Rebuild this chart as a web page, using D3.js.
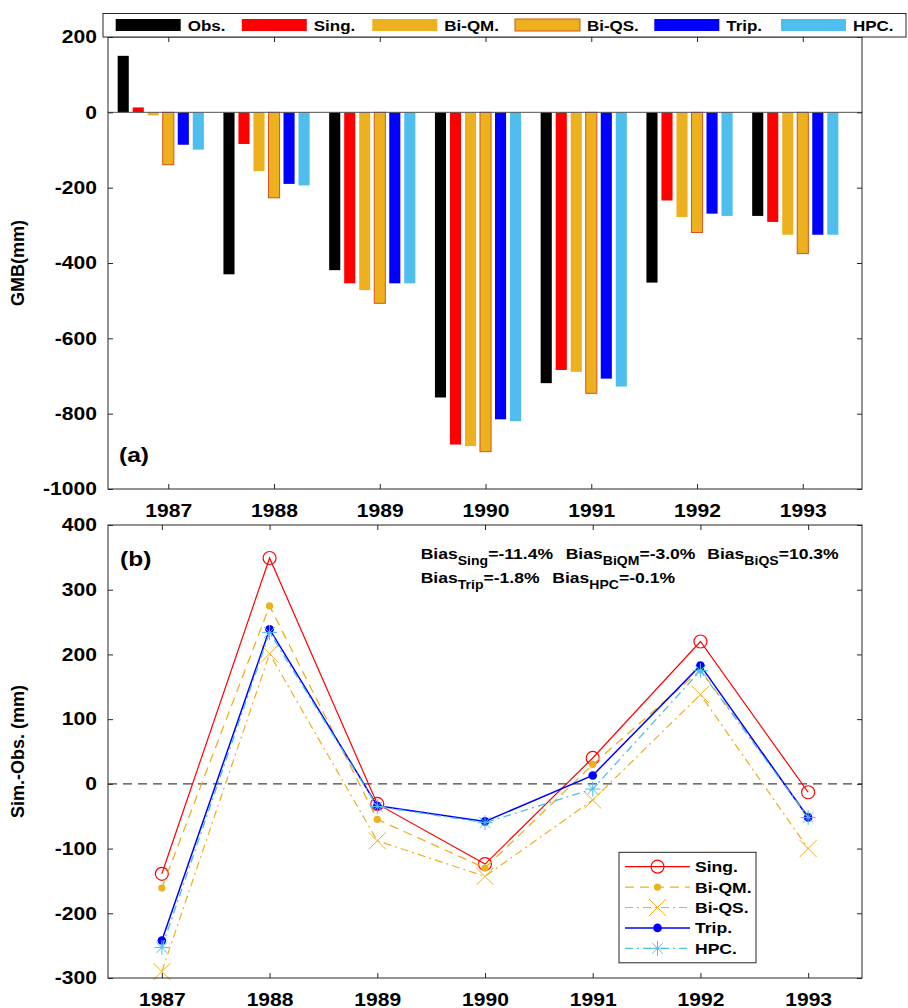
<!DOCTYPE html>
<html>
<head>
<meta charset="utf-8">
<script src="https://cdn.jsdelivr.net/npm/d3@7"></script>
<style>
  body { margin: 0; background: #fff; }
  text { font-family: "Liberation Sans", Arial, sans-serif; font-weight: bold; fill: #000; }
</style>
</head>
<body>
<div id="chart"></div>
<script>
// ---- data ----
const years = [1987, 1988, 1989, 1990, 1991, 1992, 1993];
const barNames = ["Obs.", "Sing.", "Bi-QM.", "Bi-QS.", "Trip.", "HPC."];

// panel (a): GMB (mm)
const gmbObs  = [150, -430, -419, -757, -719, -452, -275];
const gmbSing = [13, -84, -454, -882, -684, -234, -291];
const gmbBiQM = [-8, -156, -472, -886, -689, -278, -325];
const gmbBiQS = [-139, -227, -507, -901, -746, -319, -375];
const gmbTrip = [-86, -190, -454, -815, -707, -269, -325];
const gmbHPC  = [-99, -194, -454, -820, -728, -275, -325];

// panel (b): Sim.-Obs. (mm)
const diffSing = [-139, 349, -31, -124, 40, 220, -13];
const diffBiQM = [-161, 275, -55, -130, 30, 176, -50];
const diffBiQS = [-290, 201, -88, -143, -25, 138, -100];
const diffTrip = [-242, 239, -34, -58, 13, 183, -52];
const diffHPC  = [-253, 234, -35, -60, -8, 175, -52];

const ticksA = [-1000, -800, -600, -400, -200, 0, 200];
const ticksB = [-300, -200, -100, 0, 100, 200, 300, 400];

const biasLabels = [
  ["Sing", "=-11.4%"], ["BiQM", "=-3.0%"], ["BiQS", "=10.3%"],
  ["Trip", "=-1.8%"], ["HPC", "=-0.1%"]
];

// ---- styling ----
const frameColor = "#262626";
const SX = 1.17; // reference text is a little wide
const barColors = ["#000000", "#ff0000", "#edb120", "#edb120", "#0000ff", "#4dbeee"];

const svg = d3.select("#chart").append("svg")
  .attr("width", 908).attr("height", 1008);

function wide(sel) {
  sel.attr("transform", function () {
    const t = d3.select(this).attr("transform");
    return (t ? t + " " : "") + `scale(${SX},1)`;
  });
}

function frameAxes(g, x, y, box, xt, yt, fs) {
  const bottom = g.append("g").attr("transform", `translate(0,${box.b})`)
    .call(d3.axisBottom(x).tickValues(years).tickFormat(d => String(d))
      .tickSizeInner(-5).tickSizeOuter(0).tickPadding(15));
  g.append("g").attr("transform", `translate(0,${box.t})`)
    .call(d3.axisTop(x).tickValues(years).tickFormat("")
      .tickSizeInner(-5).tickSizeOuter(0));
  const left = g.append("g").attr("transform", `translate(${box.l},0)`)
    .call(d3.axisLeft(y).tickValues(yt).tickFormat(d => String(d))
      .tickSizeInner(-5).tickSizeOuter(0).tickPadding(9.5));
  g.append("g").attr("transform", `translate(${box.r},0)`)
    .call(d3.axisRight(y).tickValues(yt).tickFormat("")
      .tickSizeInner(-5).tickSizeOuter(0));
  g.selectAll(".domain").remove();
  g.selectAll(".tick line").attr("stroke", frameColor);
  [bottom, left].forEach(a => a.selectAll("text")
    .attr("font-size", fs).attr("font-family", null).attr("fill", "#000").call(wide));
  g.append("rect")
    .attr("x", box.l).attr("y", box.t)
    .attr("width", box.r - box.l).attr("height", box.b - box.t)
    .attr("fill", "none").attr("stroke", frameColor).attr("stroke-width", 1);
}

// ================= panel (a) =================
const A = { l: 108, r: 862, t: 37, b: 489 };
const xA = d3.scaleLinear().domain([1986.43, 1993.56]).range([A.l, A.r]);
const yA = d3.scaleLinear().domain([-1000, 200]).range([A.b, A.t]);
const barStep = 0.142, barW = 0.105;
const gmbSeries = [gmbObs, gmbSing, gmbBiQM, gmbBiQS, gmbTrip, gmbHPC];

const gA = svg.append("g");
gmbSeries.forEach((vals, i) => {
  gA.append("g").selectAll("rect")
    .data(vals.map((v, j) => ({ yr: years[j], v })))
    .join("rect")
    .attr("x", d => xA(d.yr + (i - 3) * barStep - barW / 2))
    .attr("width", xA(barW) - xA(0))
    .attr("y", d => yA(Math.max(d.v, 0)))
    .attr("height", d => Math.abs(yA(d.v) - yA(0)))
    .attr("fill", barColors[i])
    .attr("stroke", i === 3 ? "#d95319" : "none")
    .attr("stroke-width", 1);
});
gA.append("line")
  .attr("x1", A.l).attr("x2", A.r)
  .attr("y1", yA(0)).attr("y2", yA(0))
  .attr("stroke", "#555").attr("stroke-width", 1);

frameAxes(gA, xA, yA, A, years, ticksA, 18);

gA.append("text").attr("transform", `translate(119,462)`)
  .attr("font-size", 21).text("(a)").call(wide);

gA.append("text")
  .attr("transform", `translate(24,${(A.t + A.b) / 2}) rotate(-90)`)
  .attr("text-anchor", "middle").attr("font-size", 18).text("GMB(mm)");

// top legend
const legendX = [115.7, 241.8, 372.3, 515, 654.3, 781];
const lg = svg.append("g");
lg.append("rect").attr("x", 103).attr("y", 13.5).attr("width", 803).attr("height", 23.5)
  .attr("fill", "#fff").attr("stroke", frameColor).attr("stroke-width", 1);
barNames.forEach((name, i) => {
  lg.append("rect").attr("x", legendX[i]).attr("y", 19).attr("width", 65).attr("height", 12)
    .attr("fill", barColors[i])
    .attr("stroke", i === 3 ? "#d95319" : "none");
  lg.append("text").attr("transform", `translate(${legendX[i] + 72},31)`)
    .attr("font-size", 14.5).text(name).call(wide);
});

// ================= panel (b) =================
const B = { l: 108, r: 862, t: 525, b: 978 };
const xB = d3.scaleLinear().domain([1986.5, 1993.5]).range([B.l, B.r]);
const yB = d3.scaleLinear().domain([-300, 400]).range([B.b, B.t]);
const gB = svg.append("g");

gB.append("line")
  .attr("x1", B.l).attr("x2", B.r)
  .attr("y1", yB(0)).attr("y2", yB(0))
  .attr("stroke", "#444").attr("stroke-width", 1.4).attr("stroke-dasharray", "9,6");

function drawMarker(g, kind, cx, cy, color) {
  if (kind === "circle") {
    g.append("circle").attr("cx", cx).attr("cy", cy).attr("r", 6.5)
      .attr("fill", "none").attr("stroke", color).attr("stroke-width", 1.2);
  } else if (kind === "dot") {
    g.append("circle").attr("cx", cx).attr("cy", cy).attr("r", 3.6).attr("fill", color);
  } else if (kind === "bigdot") {
    g.append("circle").attr("cx", cx).attr("cy", cy).attr("r", 4.3).attr("fill", color);
  } else if (kind === "x") {
    const s = 8.5;
    g.append("path").attr("d", `M${cx - s},${cy - s}L${cx + s},${cy + s}M${cx - s},${cy + s}L${cx + s},${cy - s}`)
      .attr("stroke", color).attr("stroke-width", 1);
  } else if (kind === "star") {
    const s = 7.5, d = 5.3;
    g.append("path").attr("d",
      `M${cx},${cy - s}L${cx},${cy + s}M${cx - s},${cy}L${cx + s},${cy}` +
      `M${cx - d},${cy - d}L${cx + d},${cy + d}M${cx - d},${cy + d}L${cx + d},${cy - d}`)
      .attr("stroke", color).attr("stroke-width", 1);
  }
}

const lineSeries = [
  { name: "Sing.", vals: diffSing, color: "#ff0000", dash: null, w: 1.2, marker: "circle" },
  { name: "Bi-QM.", vals: diffBiQM, color: "#edb120", dash: "9,6", w: 1.3, marker: "dot" },
  { name: "Bi-QS.", vals: diffBiQS, color: "#edb120", dash: "8,4,2,4", w: 1.2, marker: "x" },
  { name: "Trip.", vals: diffTrip, color: "#0000ff", dash: null, w: 1.5, marker: "bigdot" },
  { name: "HPC.", vals: diffHPC, color: "#4dbeee", dash: "8,4,2,4", w: 1.3, marker: "star" }
];

const line = d3.line().x((d, j) => xB(years[j])).y(d => yB(d));
lineSeries.forEach(s => {
  const g = gB.append("g");
  g.append("path").attr("d", line(s.vals))
    .attr("fill", "none").attr("stroke", s.color).attr("stroke-width", s.w)
    .attr("stroke-dasharray", s.dash);
  s.vals.forEach((v, j) => drawMarker(g, s.marker, xB(years[j]), yB(v), s.color));
});

frameAxes(gB, xB, yB, B, years, ticksB, 18);

gB.append("text").attr("transform", `translate(120,566)`)
  .attr("font-size", 21).text("(b)").call(wide);

gB.append("text")
  .attr("transform", `translate(24,${(B.t + B.b) / 2}) rotate(-90)`)
  .attr("text-anchor", "middle").attr("font-size", 18).text("Sim.-Obs. (mm)");

// bias text
const biasPos = [[420.7, 559], [565.7, 559], [707.3, 559], [420.7, 583], [552.3, 583]];
biasLabels.forEach((b, i) => {
  const t = gB.append("text")
    .attr("transform", `translate(${biasPos[i][0]},${biasPos[i][1]})`)
    .attr("font-size", 15);
  t.append("tspan").text("Bias");
  t.append("tspan").attr("font-size", 12).attr("dy", 6).text(b[0]);
  t.append("tspan").attr("dy", -6).text(b[1]);
  t.call(wide);
});

// legend (b)
const lb = gB.append("g");
lb.append("rect").attr("x", 619).attr("y", 852.3).attr("width", 137).attr("height", 110.5)
  .attr("fill", "#fff").attr("stroke", frameColor).attr("stroke-width", 1);
lineSeries.forEach((s, i) => {
  const y = 866.7 + i * 20.4;
  lb.append("line").attr("x1", 625).attr("x2", 690).attr("y1", y).attr("y2", y)
    .attr("stroke", s.color).attr("stroke-width", s.w).attr("stroke-dasharray", s.dash);
  drawMarker(lb, s.marker, 657.5, y, s.color);
  lb.append("text").attr("transform", `translate(695,${y + 5.5})`)
    .attr("font-size", 15).text(s.name).call(wide);
});
</script>
</body>
</html>
